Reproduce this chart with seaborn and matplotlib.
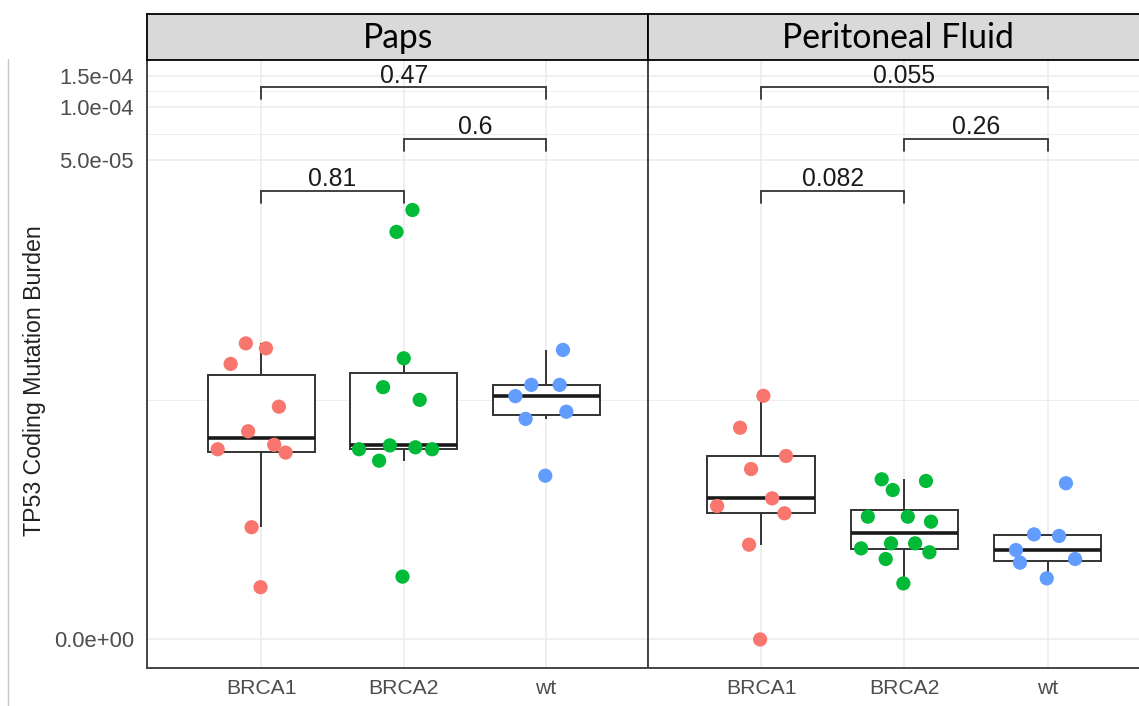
import numpy as np
import pandas as pd
import matplotlib
matplotlib.use("Agg")
import matplotlib.pyplot as plt
import seaborn as sns
from matplotlib.lines import Line2D

# ---------------- data ----------------
groups = ["BRCA1", "BRCA2", "wt"]
panels = ["Paps", "Peritoneal Fluid"]
palette = {"BRCA1": "#F8766D", "BRCA2": "#00BA38", "wt": "#619CFF"}

paps_brca1_vals = [4.56e-6, 4.27e-6, 3.47e-6, 1.95e-6, 1.39e-6, 1.08e-6, 1.15e-6, 1.03e-6, 3.29e-7, 9.7e-8]
paps_brca1_jit = [-0.109, 0.032, -0.216, 0.123, -0.093, -0.307, 0.090, 0.170, -0.069, -0.006]

paps_brca2_vals = [2.62e-5, 1.97e-5, 3.74e-6, 2.54e-6, 2.14e-6, 1.08e-6, 1.14e-6, 1.11e-6, 1.08e-6, 9.17e-7, 1.26e-7]
paps_brca2_jit = [0.061, -0.051, 0.0, -0.145, 0.112, -0.314, -0.098, 0.082, 0.199, -0.173, -0.009]

paps_wt_vals = [4.18e-6, 2.62e-6, 2.62e-6, 2.25e-6, 1.82e-6, 1.65e-6, 7.37e-7]
paps_wt_jit = [0.118, -0.104, 0.095, -0.216, 0.142, -0.144, -0.006]

pf_brca1_vals = [2.26e-6, 1.46e-6, 9.81e-7, 8.13e-7, 5.24e-7, 4.65e-7, 4.14e-7, 2.42e-7, 0.0]
pf_brca1_jit = [0.016, -0.147, 0.174, -0.070, 0.077, -0.307, 0.163, -0.084, -0.007]

pf_brca2_vals = [6.99e-7, 6.82e-7, 5.95e-7, 3.92e-7, 3.92e-7, 3.61e-7, 2.48e-7, 2.48e-7, 2.26e-7, 2.10e-7, 1.84e-7, 1.07e-7]
pf_brca2_jit = [-0.158, 0.151, -0.081, -0.255, 0.024, 0.186, -0.093, 0.075, -0.302, 0.175, -0.130, -0.007]

pf_wt_vals = [6.59e-7, 2.91e-7, 2.83e-7, 2.19e-7, 1.71e-7, 1.84e-7, 1.21e-7]
pf_wt_jit = [0.128, -0.095, 0.080, -0.221, -0.193, 0.192, -0.006]

ytick_vals = [0.0, 5e-5, 1e-4, 1.5e-4]
ytick_labels = ["0.0e+00", "5.0e-05", "1.0e-04", "1.5e-04"]

comparisons = [("BRCA1", "BRCA2"), ("BRCA2", "wt"), ("BRCA1", "wt")]
pvalues = {"Paps": ["0.81", "0.6", "0.47"],
           "Peritoneal Fluid": ["0.082", "0.26", "0.055"]}
bracket_vals = [3.36e-5, 6.58e-5, 1.29e-4]

y_title = "TP53 Coding Mutation Burden"

OFFSET = 1e-7  # log10(x + 1e-7) axis transform


def tf(v):
    return np.log10(np.asarray(v, dtype=float) + OFFSET)


rows = []
series = {
    ("Paps", "BRCA1"): (paps_brca1_vals, paps_brca1_jit),
    ("Paps", "BRCA2"): (paps_brca2_vals, paps_brca2_jit),
    ("Paps", "wt"): (paps_wt_vals, paps_wt_jit),
    ("Peritoneal Fluid", "BRCA1"): (pf_brca1_vals, pf_brca1_jit),
    ("Peritoneal Fluid", "BRCA2"): (pf_brca2_vals, pf_brca2_jit),
    ("Peritoneal Fluid", "wt"): (pf_wt_vals, pf_wt_jit),
}
for (p, g), (vals, jit) in series.items():
    for v, j in zip(vals, jit):
        rows.append({"panel": p, "group": g, "value": v, "jitter": j})
df = pd.DataFrame(rows)
df["t"] = tf(df["value"])
df["xpos"] = df["group"].map({g: i for i, g in enumerate(groups)}) + df["jitter"]

# ---------------- figure ----------------
sns.set_style("white")
plt.rcParams["font.family"] = ["Liberation Sans", "DejaVu Sans"]

W, H = 1139, 706
fig = plt.figure(figsize=(W / 100, H / 100), dpi=100)


def fx(px):
    return px / W


def fy(py):
    return 1 - py / H


panel_top, panel_bot = 59.5, 667.5
strip_top = 13.5
panel_x = [(147, 647.5), (647.5, 1139)]
xlims = [(-0.8035, 2.712), (-0.793, 2.638)]
ylim = (-7.158, -3.732)

major_t = tf(ytick_vals)
minor_t = (major_t[:-1] + major_t[1:]) / 2

spine_col = "#444444"
tick_col = "#4D4D4D"

for k, p in enumerate(panels):
    x0, x1 = panel_x[k]
    ax = fig.add_axes([fx(x0), fy(panel_bot), fx(x1 - x0), (panel_bot - panel_top) / H])
    sub = df[df["panel"] == p]

    sns.boxplot(data=sub, x="group", y="t", order=groups, width=0.75,
                color="white", linecolor="#333333", linewidth=1.4,
                showcaps=False, showfliers=False,
                medianprops={"linewidth": 2.6, "color": "#1a1a1a"},
                ax=ax, zorder=2)
    sns.scatterplot(data=sub, x="xpos", y="t", hue="group", palette=palette,
                    hue_order=groups, s=105, edgecolor="none", linewidth=0,
                    legend=False, ax=ax, zorder=3)

    ax.set_xlim(*xlims[k])
    ax.set_ylim(*ylim)
    ax.set_xticks(range(len(groups)))
    ax.set_xticklabels(groups)
    ax.set_yticks(major_t)
    ax.set_yticks(minor_t, minor=True)
    ax.set_yticklabels(ytick_labels)
    ax.set_xlabel("")
    ax.set_ylabel("")
    ax.set_axisbelow(True)
    ax.grid(which="major", color="#EBEBEB", linewidth=1.1)
    ax.grid(which="minor", axis="y", color="#EBEBEB", linewidth=0.6)
    ax.tick_params(axis="x", which="major", length=4, width=1.0, color=tick_col,
                   labelcolor=tick_col, labelsize=15.2, pad=4.5)
    ax.tick_params(axis="y", which="minor", length=0)
    if k == 0:
        ax.tick_params(axis="y", which="major", length=5, width=1.0, color=tick_col,
                       labelcolor=tick_col, labelsize=15.8, pad=4.5)
    else:
        ax.tick_params(axis="y", which="major", left=False, labelleft=False)
    for s in ["left", "bottom", "top", "right"]:
        ax.spines[s].set_color(spine_col)
        ax.spines[s].set_linewidth(1.4)
    ax.spines["top"].set_visible(False)
    if k == 1:
        ax.spines["right"].set_visible(False)

    # significance brackets
    tick_len = 12 / 177.5
    for (g1, g2), ptxt, bv in zip(comparisons, pvalues[p], bracket_vals):
        xa, xb = groups.index(g1), groups.index(g2)
        yt = tf(bv)
        ax.plot([xa, xa, xb, xb], [yt - tick_len, yt, yt, yt - tick_len],
                color="#333333", linewidth=1.3, solid_joinstyle="miter", zorder=4)
        ax.annotate(ptxt, xy=((xa + xb) / 2, yt), xytext=(0, 3.4),
                    textcoords="offset points", ha="center", va="baseline",
                    fontsize=17.8, color="#1a1a1a", zorder=5)

    # strip
    sax = fig.add_axes([fx(x0), fy(panel_top), fx(x1 - x0), (panel_top - strip_top) / H])
    sax.set_facecolor("#D9D9D9")
    sax.set_xticks([])
    sax.set_yticks([])
    for s in sax.spines.values():
        s.set_color("black")
        s.set_linewidth(1.3)
    if k == 1:
        sax.spines["right"].set_visible(False)
    strip_center_px = [398, 898][k]
    sax.text((strip_center_px - x0) / (x1 - x0), 0.47, p, transform=sax.transAxes,
             ha="center", va="center", fontsize=24.2, color="black",
             family=["Lato", "DejaVu Sans"])

# y-axis title
fig.text(fx(35), fy(381), y_title, rotation=90, ha="center", va="center",
         fontsize=16.7, color="#222222")

# thin border line at left edge
fig.add_artist(Line2D([fx(8), fx(8)], [0, fy(59)], color="#C8C8C8", linewidth=1.0))

fig.savefig("out.png", dpi=100)
